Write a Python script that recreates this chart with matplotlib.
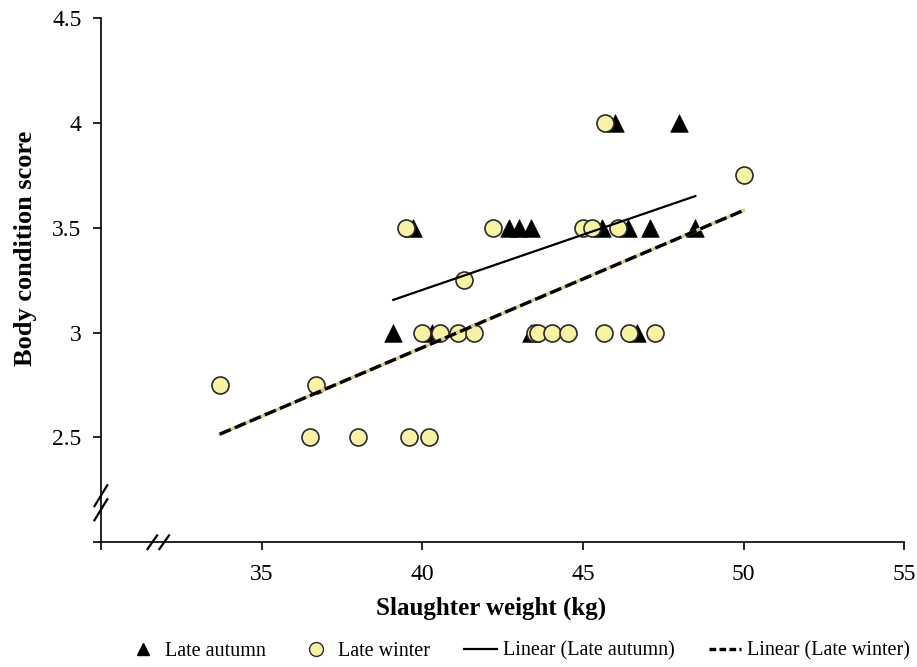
import numpy as np
import matplotlib
matplotlib.use('Agg')
import matplotlib.pyplot as plt
from matplotlib.lines import Line2D

# Late autumn (triangles)
autumn_x = [46.0, 48.0,
            39.7, 42.7, 43.0, 43.4, 45.6, 46.4, 47.1, 48.5,
            39.1, 40.3, 43.4, 46.7]
autumn_y = [4.0, 4.0,
            3.5, 3.5, 3.5, 3.5, 3.5, 3.5, 3.5, 3.5,
            3.0, 3.0, 3.0, 3.0]

# Late winter (circles)
winter_x = [45.7, 50.0,
            39.5, 42.2, 45.0, 45.3, 46.1,
            41.3,
            40.0, 40.55, 41.1, 41.6, 43.5, 43.6, 44.05, 44.55, 45.65, 46.45, 47.25,
            33.7, 36.7,
            36.5, 38.0, 39.6, 40.2]
winter_y = [4.0, 3.75,
            3.5, 3.5, 3.5, 3.5, 3.5,
            3.25,
            3.0, 3.0, 3.0, 3.0, 3.0, 3.0, 3.0, 3.0, 3.0, 3.0, 3.0,
            2.75, 2.75,
            2.5, 2.5, 2.5, 2.5]

x_ticks = [30, 35, 40, 45, 50, 55]
x_labels = ['', '35', '40', '45', '50', '55']
y_ticks = [2.0, 2.5, 3.0, 3.5, 4.0, 4.5]
y_labels = ['', '2.5', '3', '3.5', '4', '4.5']

plt.rcParams['font.family'] = ['Liberation Serif', 'DejaVu Serif']

fig = plt.figure(figsize=(9.17, 6.67), dpi=100)
ax = fig.add_axes([0.110, 0.187, 0.876, 0.786])

circ_face = '#f8f2a4'

# trend lines (least squares, drawn over each series' x range)
ax_ = np.array(autumn_x)
pa = np.polyfit(ax_, autumn_y, 1)
xa = np.array([ax_.min(), ax_.max()])
wx_ = np.array(winter_x)
pw = np.polyfit(wx_, winter_y, 1)
xw = np.array([wx_.min(), wx_.max()])

ax.scatter(winter_x, winter_y, s=150, marker='o', facecolor=circ_face,
           edgecolor='#2a2a2a', linewidth=1.2, zorder=3)
ax.scatter(autumn_x, autumn_y, s=160, marker='^', facecolor='black',
           edgecolor='black', linewidth=0.5, zorder=2)

ax.plot(xa, np.polyval(pa, xa), color='black', lw=1.6, zorder=4)
ax.plot(xw, np.polyval(pw, xw), color='#d9c98a', lw=2.4, zorder=4)
ax.plot(xw, np.polyval(pw, xw), color='black', lw=2.4, dashes=(3.6, 1.3), zorder=4)

ax.set_xlim(30, 55)
ax.set_ylim(2.0, 4.5)
ax.set_xticks(x_ticks)
ax.set_xticklabels(x_labels, fontsize=17)
ax.set_yticks(y_ticks)
ax.set_yticklabels(y_labels, fontsize=17)
ax.tick_params(direction='out', length=6, width=1.2)
ax.tick_params(axis='y', pad=8)
ax.tick_params(axis='x', pad=10)
for s in ['top', 'right']:
    ax.spines[s].set_visible(False)
for s in ['left', 'bottom']:
    ax.spines[s].set_linewidth(1.2)

ax.set_xlabel('Slaughter weight (kg)', fontsize=18, fontweight='bold')
ax.set_ylabel('Body condition score', fontsize=19, fontweight='bold')
ax.xaxis.set_label_coords(0.486, -0.104)
ax.yaxis.set_label_coords(-0.079, 0.56)

# axis break marks
for yc in [2.155, 2.222]:
    yf = (yc - 2.0) / 2.5
    ax.plot([-0.008, 0.008], [yf - 0.02, yf + 0.02],
            transform=ax.transAxes, color='black', lw=1.6, clip_on=False)
for x0 in [31.6, 31.97]:
    xf = (x0 - 30) / 25
    ax.plot([xf - 0.006, xf + 0.006], [-0.013, 0.013],
            transform=ax.transAxes, color='black', lw=1.6, clip_on=False)

handles = [
    Line2D([], [], ls='none', marker='^', color='black', markersize=8),
    Line2D([], [], ls='none', marker='o', markerfacecolor=circ_face,
           markeredgecolor='#2a2a2a', markersize=10),
    Line2D([], [], color='black', lw=1.6),
    Line2D([], [], color='black', lw=2.4, dashes=(2, 1)),
]
labels = ['Late autumn', 'Late winter', 'Linear (Late autumn)', 'Linear (Late winter)']
fig.legend(handles, labels, loc='lower center', bbox_to_anchor=(0.565, -0.018), ncol=4,
           frameon=False, fontsize=14.5, handlelength=1.6, handletextpad=0.3,
           columnspacing=1.7)

fig.savefig('out.png', dpi=100)
